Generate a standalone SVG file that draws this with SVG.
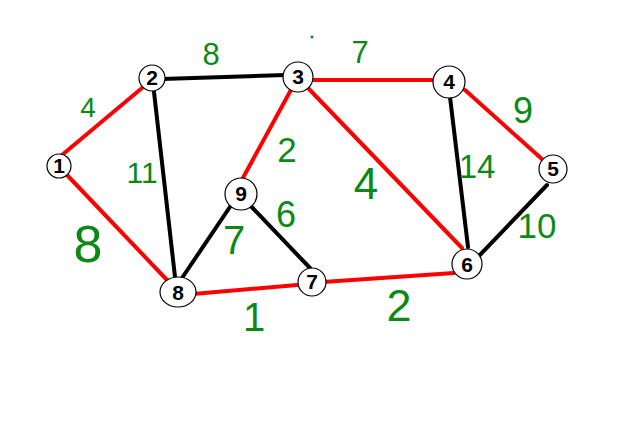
<svg xmlns="http://www.w3.org/2000/svg" width="629" height="439" viewBox="0 0 629 439">
<style>
.r{stroke:#ff0000;stroke-width:4;stroke-linecap:round;fill:none}
.k{stroke:#000;stroke-width:4;stroke-linecap:round;fill:none}
.n{fill:#fff;stroke:#000;stroke-width:1.2}
.nl{font-family:"Liberation Sans",Arial,sans-serif;font-weight:bold;font-size:21px;fill:#000;text-anchor:middle}
.w{font-family:"Liberation Sans",Arial,sans-serif;fill:#0a8a14;text-anchor:middle}
</style>
<rect width="629" height="439" fill="#fff"/>
<g id="edges">
<line class="r" x1="62" y1="155" x2="142" y2="88"/>
<line class="r" x1="67" y1="175" x2="167" y2="280"/>
<line class="k" x1="162" y1="79" x2="285" y2="75"/>
<line class="k" x1="154" y1="92" x2="175" y2="277"/>
<line class="r" x1="313" y1="80" x2="433" y2="80"/>
<line class="r" x1="292" y1="88" x2="238" y2="187"/>
<line class="r" x1="308" y1="88" x2="462" y2="248"/>
<line class="k" x1="450" y1="97" x2="468" y2="247"/>
<line class="r" x1="465" y1="90" x2="543" y2="160"/>
<line class="k" x1="547" y1="185" x2="478" y2="257"/>
<line class="k" x1="238" y1="195" x2="182" y2="278"/>
<line class="k" x1="245" y1="200" x2="310" y2="268"/>
<line class="r" x1="193" y1="294" x2="297" y2="285"/>
<line class="r" x1="323" y1="282" x2="454" y2="273"/>
</g>
<g id="weights">
<text class="w" x="211" y="65" font-size="31">8</text>
<text class="w" x="88" y="117" font-size="28">4</text>
<text class="w" x="142" y="183" font-size="30">11</text>
<text class="w" x="287" y="162" font-size="35">2</text>
<text class="w" x="360" y="63" font-size="31">7</text>
<text class="w" x="523" y="123" font-size="36">9</text>
<text class="w" x="477" y="178" font-size="33">14</text>
<text class="w" x="366" y="199" font-size="44">4</text>
<text class="w" x="286" y="227" font-size="36">6</text>
<text class="w" x="234" y="254" font-size="40">7</text>
<text class="w" x="88" y="262" font-size="52">8</text>
<text class="w" x="537" y="238" font-size="35">10</text>
<text class="w" x="254" y="331" font-size="40">1</text>
<text class="w" x="399" y="321" font-size="45">2</text>
</g>
<circle cx="312" cy="37" r="1.5" fill="#0a8a14"/>
<g id="n1"><circle class="n" cx="59" cy="166" r="12"/><text class="nl" x="59" y="173">1</text></g>
<g id="n2"><circle class="n" cx="152" cy="78" r="13"/><text class="nl" x="152" y="85">2</text></g>
<g id="n3"><circle class="n" cx="298" cy="77" r="15"/><text class="nl" x="298" y="84">3</text></g>
<g id="n4"><circle class="n" cx="449" cy="82" r="16"/><text class="nl" x="449" y="89">4</text></g>
<g id="n5"><circle class="n" cx="553" cy="169" r="14"/><text class="nl" x="553" y="176">5</text></g>
<g id="n6"><circle class="n" cx="467" cy="264" r="15"/><text class="nl" x="467" y="272">6</text></g>
<g id="n7"><circle class="n" cx="312" cy="282" r="14"/><text class="nl" x="312" y="289">7</text></g>
<g id="n8"><ellipse class="n" cx="178" cy="292" rx="18" ry="15"/><text class="nl" x="178" y="300">8</text></g>
<g id="n9"><circle class="n" cx="241" cy="194" r="16"/><text class="nl" x="241" y="201">9</text></g>
</svg>
